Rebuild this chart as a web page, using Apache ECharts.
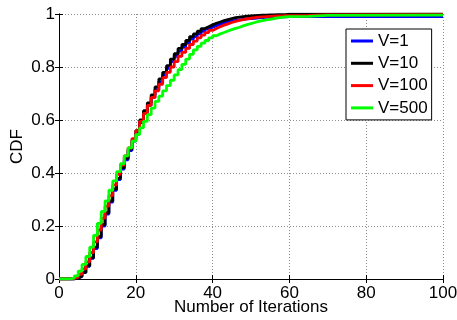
<!DOCTYPE html>
<html><head><meta charset="utf-8">
<script src="https://cdn.jsdelivr.net/npm/echarts@6/dist/echarts.min.js"></script>
<style>html,body{margin:0;padding:0;background:#fff}#c{width:457px;height:320px}</style>
</head><body><div id="c"></div>
<script>
const iterations = [0,1,2,3,4,5,6,7,8,9,10,11,12,13,14,15,16,17,18,19,20,21,22,23,24,25,26,27,28,29,30,31,32,33,34,35,36,37,38,39,40,41,42,43,44,45,46,47,48,49,50,51,52,53,54,55,56,57,58,59,60,65,70,100];
const cdfV1 = [0,0,0,0,0.003,0.01,0.024,0.048,0.078,0.115,
  0.155,0.2,0.245,0.29,0.335,0.375,0.415,0.45,0.485,0.52,
  0.555,0.59,0.625,0.655,0.685,0.715,0.745,0.77,0.795,0.82,
  0.84,0.86,0.875,0.89,0.905,0.915,0.925,0.935,0.943,0.95,
  0.956,0.961,0.966,0.97,0.973,0.976,0.978,0.98,0.982,0.983,
  0.984,0.985,0.986,0.987,0.987,0.988,0.988,0.989,0.989,0.99,
  0.99,0.99,0.99,0.99];
const cdfV10 = [0,0,0,0,0.003,0.01,0.025,0.05,0.08,0.12,
  0.16,0.205,0.25,0.295,0.34,0.38,0.42,0.455,0.49,0.525,
  0.56,0.6,0.635,0.665,0.695,0.725,0.755,0.78,0.805,0.83,
  0.85,0.87,0.885,0.9,0.915,0.925,0.935,0.945,0.952,0.959,
  0.965,0.97,0.975,0.979,0.983,0.986,0.988,0.99,0.992,0.993,
  0.994,0.995,0.996,0.996,0.997,0.997,0.998,0.998,0.998,0.999,
  0.999,0.999,1,1];
const cdfV100 = [0,0,0,0.002,0.007,0.018,0.038,0.065,0.1,0.14,
  0.185,0.23,0.275,0.315,0.355,0.395,0.43,0.465,0.495,0.53,
  0.56,0.595,0.625,0.655,0.685,0.71,0.735,0.76,0.78,0.8,
  0.82,0.84,0.855,0.87,0.885,0.898,0.91,0.92,0.93,0.938,
  0.945,0.952,0.958,0.963,0.968,0.972,0.976,0.979,0.982,0.984,
  0.986,0.988,0.989,0.99,0.991,0.992,0.993,0.993,0.994,0.994,
  0.995,0.997,0.998,0.998];
const cdfV500 = [0,0,0,0.004,0.012,0.03,0.055,0.085,0.12,0.165,
  0.21,0.255,0.295,0.335,0.37,0.405,0.435,0.465,0.495,0.52,
  0.545,0.57,0.595,0.62,0.645,0.67,0.69,0.71,0.73,0.75,
  0.77,0.79,0.81,0.83,0.848,0.865,0.878,0.89,0.9,0.91,
  0.918,0.925,0.93,0.936,0.941,0.946,0.95,0.955,0.96,0.964,
  0.968,0.972,0.975,0.978,0.98,0.983,0.985,0.987,0.989,0.99,
  0.991,0.995,0.996,0.997];
const seriesNames = ['V=1','V=10','V=100','V=500'];
const seriesColors = ['#0000ff','#000000','#ff0000','#00ff00'];
const seriesValues = [cdfV1, cdfV10, cdfV100, cdfV500];
const xTickLabels = ['0','20','40','60','80','100'];
const yTickLabels = ['0','0.2','0.4','0.6','0.8','1'];

const FONT = 'Liberation Sans';
const chart = echarts.init(document.getElementById('c'), null, {renderer:'canvas'});
const axisLineStyle = {show:true, lineStyle:{color:'#000', width:1}};
const splitStyle = {show:true, lineStyle:{color:'#8c8c8c', width:1, type:[1,2]}};
const tick = {show:true, inside:true, length:4, lineStyle:{color:'#000'}};
chart.setOption({
  animation:false,
  backgroundColor:'#fff',
  grid:{left:59, right:14, top:14, bottom:41, containLabel:false, outerBoundsMode:'none'},
  legend:{
    orient:'vertical', left:346, top:29,
    data:seriesNames, icon:'rect', itemWidth:22, itemHeight:3, itemGap:4.3,
    padding:[3,4,3,5],
    backgroundColor:'#fff', borderColor:'#000', borderWidth:1, borderRadius:0,
    textStyle:{fontFamily:FONT, fontSize:17, color:'#000', lineHeight:18}
  },
  xAxis:[{
    type:'value', position:'bottom', min:0, max:100, interval:20,
    name:'Number of Iterations', nameLocation:'middle', nameGap:20, nameMoveOverlap:false,
    nameTextStyle:{fontFamily:FONT, fontSize:17, color:'#000', lineHeight:17},
    axisLine:axisLineStyle, axisTick:tick, splitLine:splitStyle,
    axisLabel:{fontFamily:FONT, fontSize:17, color:'#000', margin:6, lineHeight:17,
      formatter:(v)=>xTickLabels[Math.round(v/20)]}
  },{
    type:'value', position:'top', min:0, max:100, interval:20,
    axisLine:axisLineStyle, axisTick:tick, splitLine:{show:false}, axisLabel:{show:false}
  }],
  yAxis:[{
    type:'value', position:'left', min:0, max:1, interval:0.2,
    name:'CDF', nameLocation:'middle', nameGap:33, nameMoveOverlap:false,
    nameTextStyle:{fontFamily:FONT, fontSize:17, color:'#000', lineHeight:17},
    axisLine:axisLineStyle, axisTick:tick, splitLine:splitStyle,
    axisLabel:{fontFamily:FONT, fontSize:17, color:'#000', margin:4,
      formatter:(v)=>yTickLabels[Math.round(v/0.2)]}
  },{
    type:'value', position:'right', min:0, max:1, interval:0.2,
    axisLine:axisLineStyle, axisTick:tick, splitLine:{show:false}, axisLabel:{show:false}
  }],
  series: seriesNames.map((n,i)=>({
    name:n, type:'line', step:'end', showSymbol:false, symbol:'none',
    xAxisIndex:0, yAxisIndex:0,
    color:seriesColors[i],
    lineStyle:{color:seriesColors[i], width:2.8},
    data: iterations.map((x,k)=>[x, seriesValues[i][k]])
  }))
});
</script>
</body></html>
